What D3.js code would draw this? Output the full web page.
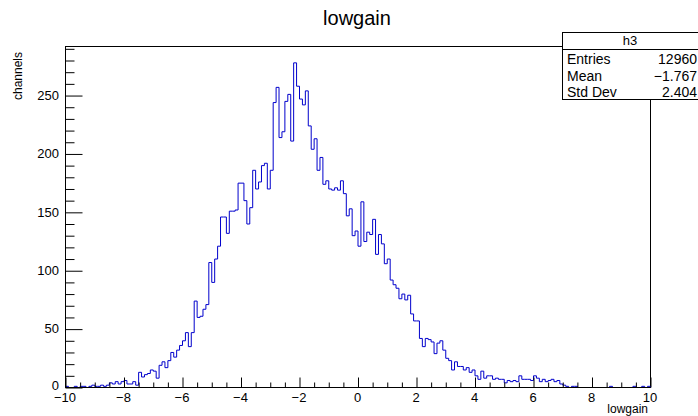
<!DOCTYPE html>
<html>
<head>
<meta charset="utf-8">
<script src="https://cdn.jsdelivr.net/npm/d3@7"></script>
<style>
  body { margin: 0; background: #fff; }
  svg { display: block; font-family: "Liberation Sans", Arial, Helvetica, sans-serif; }
</style>
</head>
<body>
<svg id="chart" width="698" height="416"></svg>
<script>
// histogram h3: 200 bins from -10 to 10
var binLow = -10;
var binHigh = 10;
var counts = [
    1, 0, 0, 1, 0, 1, 1, 0, 1, 2,
    1, 1, 2, 1, 2, 4, 3, 5, 3, 5,
    6, 3, 3, 5, 2, 13, 9, 11, 12, 15,
    14, 8, 19, 22, 17, 23, 30, 26, 32, 36,
    40, 47, 35, 47, 74, 60, 61, 67, 71, 107,
    90, 110, 121, 146, 146, 132, 151, 151, 152, 175,
    175, 160, 140, 154, 186, 170, 176, 190, 192, 170,
    186, 244, 257, 214, 219, 245, 251, 211, 278, 258,
    247, 242, 254, 224, 204, 213, 186, 197, 174, 177,
    170, 169, 171, 169, 177, 166, 147, 153, 130, 134,
    121, 159, 125, 133, 131, 144, 114, 131, 123, 106,
    110, 92, 88, 85, 76, 80, 75, 79, 63, 57,
    57, 42, 35, 42, 41, 39, 29, 38, 40, 32,
    25, 23, 15, 22, 18, 18, 15, 17, 13, 15,
    10, 7, 14, 8, 10, 10, 7, 8, 7, 7,
    4, 6, 5, 6, 5, 10, 7, 7, 7, 6,
    10, 8, 5, 7, 5, 6, 7, 5, 6, 3,
    2, 1, 0, 1, 1, 0, 0, 0, 0, 0,
    0, 0, 0, 0, 0, 0, 1, 0, 0, 0,
    0, 0, 0, 0, 1, 0, 0, 1, 0, 1
];
var yMax = 292;
var xTicks = [-10, -8, -6, -4, -2, 0, 2, 4, 6, 8, 10];
var yTicks = [0, 50, 100, 150, 200, 250];
var statNames = ['Entries', 'Mean', 'Std Dev'];
var statValues = ['12960', '\u22121.767', '2.404'];

var frame = { left: 65, right: 650, top: 46, bottom: 387 };
var svg = d3.select('#chart');

var x = d3.scaleLinear().domain([binLow, binHigh]).range([frame.left, frame.right]);
var y = d3.scaleLinear().domain([0, yMax]).range([frame.bottom, frame.top]);

function fmt(v) {
    return v < 0 ? '\u2212' + Math.abs(v) : String(v);
}

// frame
svg.append('rect')
    .attr('x', frame.left + 0.5)
    .attr('y', frame.top + 0.5)
    .attr('width', frame.right - frame.left)
    .attr('height', frame.bottom - frame.top)
    .attr('fill', 'none')
    .attr('stroke', '#000')
    .attr('stroke-width', 1);

// histogram outline
var bw = (binHigh - binLow) / counts.length;
var d = 'M' + x(binLow) + ',' + y(0);
for (var i = 0; i < counts.length; i++) {
    d += 'V' + y(counts[i]) + 'H' + x(binLow + bw * (i + 1));
}
d += 'V' + y(0);
svg.append('path')
    .attr('d', d)
    .attr('fill', 'none')
    .attr('stroke', '#0000cc')
    .attr('stroke-width', 1)
    .attr('transform', 'translate(0.5,0.5)');

// x axis, ticks point up into the frame
var xAxis = d3.axisTop(x)
    .tickValues(d3.range(binLow, binHigh + 0.001, 0.5))
    .tickSize(5)
    .tickFormat('');
var gx = svg.append('g')
    .attr('transform', 'translate(0.5,' + (frame.bottom + 0.5) + ')')
    .call(xAxis);
gx.selectAll('.tick line')
    .attr('y2', function (v) { return v % 2 === 0 ? -10 : -5; });
gx.select('.domain').attr('d', 'M' + frame.left + ',0H' + frame.right);

svg.append('g').selectAll('text')
    .data(xTicks)
    .enter().append('text')
    .attr('x', function (v) { return x(v); })
    .attr('y', frame.bottom + 15)
    .attr('text-anchor', 'middle')
    .attr('font-size', 13)
    .text(fmt);

// y axis, ticks point right into the frame
var yAxis = d3.axisRight(y)
    .tickValues(d3.range(0, yMax, 10))
    .tickSize(9)
    .tickFormat('');
var gy = svg.append('g')
    .attr('transform', 'translate(' + (frame.left + 0.5) + ',0.5)')
    .call(yAxis);
gy.selectAll('.tick line')
    .attr('x2', function (v) { return v % 50 === 0 ? 17 : 9; });
gy.select('.domain').attr('d', 'M0,' + frame.bottom + 'V' + frame.top);

svg.append('g').selectAll('text')
    .data(yTicks)
    .enter().append('text')
    .attr('x', frame.left - 6)
    .attr('y', function (v) { return y(v); })
    .attr('dy', v => v === 0 ? '0.2em' : '0.36em')
    .attr('text-anchor', 'end')
    .attr('font-size', 13)
    .text(fmt);

// titles
svg.append('text')
    .attr('x', 357)
    .attr('y', 25)
    .attr('text-anchor', 'middle')
    .attr('font-size', 20)
    .text('lowgain');

svg.append('text')
    .attr('x', frame.right - 2)
    .attr('y', 413)
    .attr('text-anchor', 'end')
    .attr('font-size', 12)
    .text('lowgain');

svg.append('text')
    .attr('transform', 'translate(22,' + (frame.top + 6) + ') rotate(-90)')
    .attr('text-anchor', 'end')
    .attr('font-size', 12)
    .text('channels');

// stats box
var box = { x: 562, y: 32, w: 140, h: 67, head: 17 };
var stats = svg.append('g');
stats.append('rect')
    .attr('x', box.x + 0.5)
    .attr('y', box.y + 0.5)
    .attr('width', box.w)
    .attr('height', box.h)
    .attr('fill', '#fff')
    .attr('stroke', '#000');
stats.append('line')
    .attr('x1', box.x)
    .attr('x2', box.x + box.w)
    .attr('y1', box.y + box.head + 0.5)
    .attr('y2', box.y + box.head + 0.5)
    .attr('stroke', '#000');
stats.append('text')
    .attr('x', 630)
    .attr('y', box.y + box.head / 2)
    .attr('dy', '0.36em')
    .attr('text-anchor', 'middle')
    .attr('font-size', 13)
    .text('h3');
for (var k = 0; k < statNames.length; k++) {
    var ty = box.y + box.head + 10 + k * 16.5;
    stats.append('text')
        .attr('x', box.x + 5)
        .attr('y', ty)
        .attr('dy', '0.36em')
        .attr('font-size', 14)
        .text(statNames[k]);
    stats.append('text')
        .attr('x', 697)
        .attr('y', ty)
        .attr('dy', '0.36em')
        .attr('text-anchor', 'end')
        .attr('font-size', 14)
        .text(statValues[k]);
}
</script>
</body>
</html>
